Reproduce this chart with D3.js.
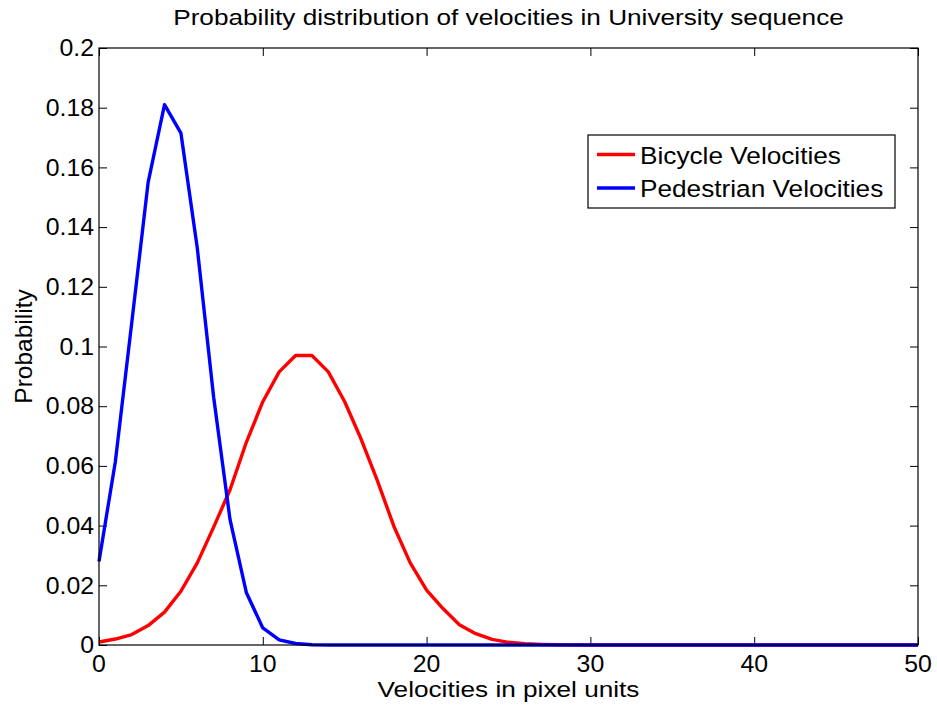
<!DOCTYPE html>
<html><head><meta charset="utf-8">
<script src="https://cdn.jsdelivr.net/npm/d3@7/dist/d3.min.js"></script>
<style>body{margin:0;background:#fff}svg{display:block}text{font-family:"Liberation Sans",Arial,sans-serif;fill:#000}</style>
</head><body>
<svg id="c" width="937" height="706"></svg>
<script>
const xValues = d3.range(0, 51);
const bicycle = [0.001,0.002,0.0035,0.0065,0.011,0.018,0.0275,0.0395,0.052,0.068,0.0815,0.0915,0.097,0.097,0.0915,0.0815,0.069,0.055,0.0398,0.0275,0.0184,0.0122,0.0068,0.0038,0.0019,0.0009,0.0004,0.0002,0.0001,0.00005,0,0,0,0,0,0,0,0,0,0,0,0,0,0,0,0,0,0,0,0,0];
const pedestrian = [0.028,0.0615,0.108,0.155,0.181,0.1715,0.133,0.083,0.042,0.0175,0.0057,0.0017,0.0005,0.0001,0,0,0,0,0,0,0,0,0,0,0,0,0,0,0,0,0,0,0,0,0,0,0,0,0,0,0,0,0,0,0,0,0,0,0,0,0];
const xTicks = [0,10,20,30,40,50];
const yTicks = [0,0.02,0.04,0.06,0.08,0.1,0.12,0.14,0.16,0.18,0.2];
const seriesNames = ["Bicycle Velocities","Pedestrian Velocities"];
const seriesColors = ["#ff0000","#0000ff"];

const svg = d3.select("#c");
const L=99,R=918,T=48,B=645;
const x = d3.scaleLinear().domain([0,50]).range([L,R]);
const y = d3.scaleLinear().domain([0,0.2]).range([B,T]);

const fmt = d => d===0 ? "0" : String(+d.toFixed(2));
function stext(px, py, str, size, sx, anchor, rot){
  return svg.append("text")
    .attr("transform", `translate(${px},${py})` + (rot?` rotate(${rot})`:"") + ` scale(${sx},1)`)
    .attr("text-anchor", anchor).attr("font-size", size).text(str);
}
// tick marks (all four sides, inward)
svg.append("g").attr("transform",`translate(0,${B})`)
  .call(d3.axisBottom(x).tickValues(xTicks).tickFormat("").tickSizeInner(-8).tickSizeOuter(0))
  .call(g=>g.select(".domain").remove());
svg.append("g").attr("transform",`translate(0,${T})`)
  .call(d3.axisTop(x).tickValues(xTicks).tickFormat("").tickSizeInner(-8).tickSizeOuter(0))
  .call(g=>g.select(".domain").remove());
svg.append("g").attr("transform",`translate(${L},0)`)
  .call(d3.axisLeft(y).tickValues(yTicks).tickFormat("").tickSizeInner(-8).tickSizeOuter(0))
  .call(g=>g.select(".domain").remove());
svg.append("g").attr("transform",`translate(${R},0)`)
  .call(d3.axisRight(y).tickValues(yTicks).tickFormat("").tickSizeInner(-8).tickSizeOuter(0))
  .call(g=>g.select(".domain").remove());
svg.selectAll(".tick line").attr("stroke","#000").attr("stroke-width",1);

// tick labels
xTicks.forEach(t=>stext(x(t), B+27, fmt(t), 23, 1.08, "middle"));
yTicks.forEach(t=>stext(L-5, y(t)+8.2, fmt(t), 23, 1.08, "end"));

const line = d3.line().x((d,i)=>x(xValues[i])).y(d=>y(d));
[bicycle,pedestrian].forEach((s,k)=>{
  svg.append("path").datum(s).attr("d",line).attr("fill","none")
    .attr("stroke",seriesColors[k]).attr("stroke-width",3.4).attr("stroke-linejoin","round");
});
svg.append("rect").attr("x",L).attr("y",T).attr("width",R-L).attr("height",B-T)
  .attr("fill","none").attr("stroke","#000").attr("stroke-width",1.2);

// legend
svg.append("rect").attr("x",588).attr("y",135).attr("width",307).attr("height",73)
  .attr("fill","#fff").attr("stroke","#000").attr("stroke-width",1.2);
seriesNames.forEach((n,k)=>{
  const yy = 154.5 + k*33.5;
  svg.append("line").attr("x1",597).attr("x2",635).attr("y1",yy).attr("y2",yy)
    .attr("stroke",seriesColors[k]).attr("stroke-width",3.4);
  stext(640, 164 + k*33, n, 24.5, 1.07, "start");
});

stext((L+R)/2, 25, "Probability distribution of velocities in University sequence", 22, 1.19, "middle");
stext((L+R)/2, 697, "Velocities in pixel units", 22, 1.19, "middle");
stext(32, 346.5, "Probability", 24.5, 1.0, "middle", -90);
</script>
</body></html>
